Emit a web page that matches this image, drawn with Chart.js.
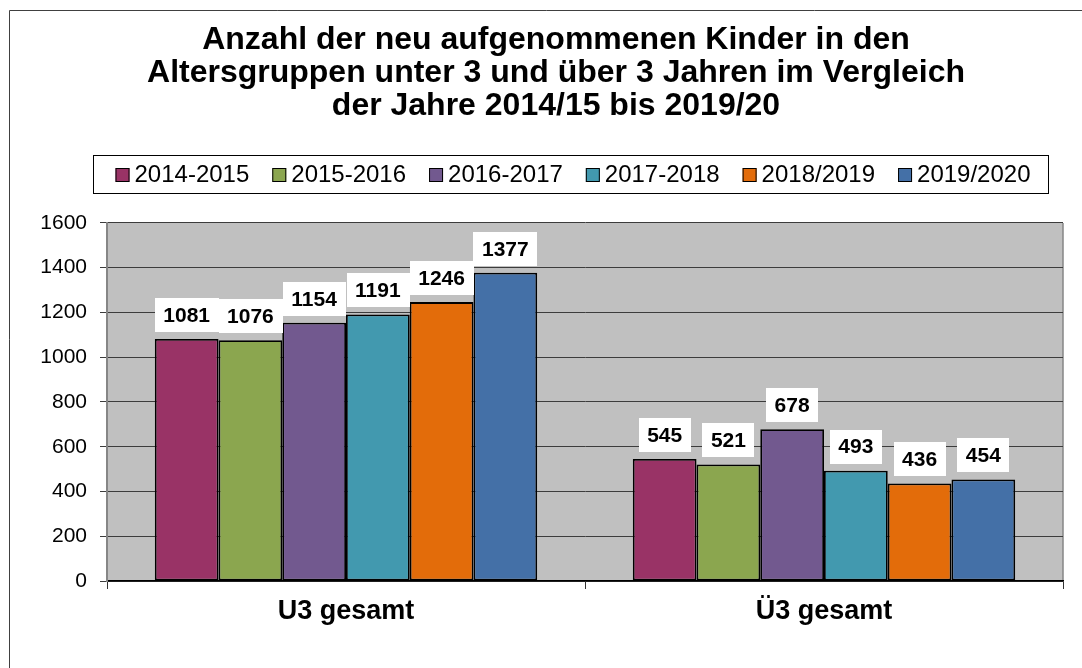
<!DOCTYPE html>
<html><head><meta charset="utf-8">
<script src="https://cdn.jsdelivr.net/npm/chart.js@4/dist/chart.umd.min.js"></script>
<style>html,body{margin:0;padding:0;background:#fff;overflow:hidden}#wrap{position:relative;width:1082px;height:668px}</style>
</head><body><div id="wrap"><canvas id="c" width="1082" height="668"></canvas></div>
<script>
const categories = ['U3 gesamt', 'Ü3 gesamt'];
const seriesLabels = ['2014-2015', '2015-2016', '2016-2017', '2017-2018', '2018/2019', '2019/2020'];
const values2014_15 = [1081, 545];
const values2015_16 = [1076, 521];
const values2016_17 = [1154, 678];
const values2017_18 = [1191, 493];
const values2018_19 = [1246, 436];
const values2019_20 = [1377, 454];
const seriesColors = ['#993366', '#8BA64F', '#72598F', '#4299AF', '#E36C0A', '#4470A7'];
const yTickValues = [0, 200, 400, 600, 800, 1000, 1200, 1400, 1600];
const titleLines = ['Anzahl der neu aufgenommenen Kinder in den', 'Altersgruppen unter 3 und über 3 Jahren im Vergleich', 'der Jahre 2014/15 bis 2019/20'];

const FONT = '"Liberation Sans", Arial, Helvetica, sans-serif';
const seriesValues = [values2014_15, values2015_16, values2016_17, values2017_18, values2018_19, values2019_20];

const framePlugin = {
  id: 'frame',
  beforeDraw(chart) {
    const ctx = chart.ctx, a = chart.chartArea;
    ctx.save();
    ctx.fillStyle = '#fff';
    ctx.fillRect(0, 0, chart.width, chart.height);
    ctx.strokeStyle = '#404040';
    ctx.lineWidth = 1;
    ctx.beginPath();
    ctx.moveTo(9.5, chart.height + 2);
    ctx.lineTo(9.5, 10.5);
    ctx.lineTo(chart.width + 2, 10.5);
    ctx.stroke();
    ctx.fillStyle = '#C0C0C0';
    ctx.fillRect(a.left, a.top, a.right - a.left, a.bottom - a.top);
    ctx.strokeStyle = '#868686';
    ctx.lineWidth = 1.5;
    ctx.beginPath();
    ctx.moveTo(a.right, a.top);
    ctx.lineTo(a.right, a.bottom);
    ctx.stroke();
    ctx.restore();
  }
};

const legendPlugin = {
  id: 'boxLegend',
  afterDraw(chart) {
    const ctx = chart.ctx;
    ctx.save();
    ctx.font = '24px ' + FONT;
    const marker = 14, gapMT = 5, gapItem = 23;
    const widths = seriesLabels.map(t => marker + gapMT + ctx.measureText(t).width);
    const total = widths.reduce((s, w) => s + w, 0) + gapItem * (widths.length - 1);
    let x = 573 - total / 2;
    const cy = 175;
    ctx.strokeStyle = '#000';
    ctx.lineWidth = 1;
    ctx.strokeRect(Math.round(x - 23) + 0.5, 155.5, Math.round(total + 23 + 17), 38);
    seriesLabels.forEach((t, i) => {
      ctx.fillStyle = seriesColors[i];
      ctx.fillRect(x, cy - 7, marker, marker);
      ctx.strokeStyle = '#000';
      ctx.strokeRect(x + 0.5, cy - 7 + 0.5, marker - 1, marker - 1);
      ctx.fillStyle = '#000';
      ctx.textAlign = 'left';
      ctx.textBaseline = 'middle';
      ctx.fillText(t, x + marker + gapMT, cy);
      x += widths[i] + gapItem;
    });
    ctx.restore();
  }
};

const labelPlugin = {
  id: 'boxLabels',
  afterDatasetsDraw(chart) {
    const ctx = chart.ctx;
    ctx.save();
    ctx.font = 'bold 21px ' + FONT;
    chart.data.datasets.forEach((ds, i) => {
      const meta = chart.getDatasetMeta(i);
      meta.data.forEach((bar, j) => {
        const txt = String(ds.data[j]);
        const w = ctx.measureText(txt).width + 17;
        const h = 34;
        const bottom = bar.y - 7;
        ctx.fillStyle = '#fff';
        ctx.fillRect(Math.round(bar.x - w / 2), Math.round(bottom - h), Math.round(w), h);
        ctx.fillStyle = '#000';
        ctx.textAlign = 'center';
        ctx.textBaseline = 'middle';
        ctx.fillText(txt, bar.x, bottom - h / 2 + 1);
      });
    });
    ctx.restore();
  }
};

new Chart(document.getElementById('c'), {
  type: 'bar',
  data: {
    labels: categories,
    datasets: seriesLabels.map((lab, i) => ({
      label: lab,
      data: seriesValues[i],
      backgroundColor: seriesColors[i],
      borderColor: '#000',
      borderWidth: 1.8,
      borderSkipped: false,
      categoryPercentage: 0.8,
      barPercentage: 1.0,
      yAxisID: 'y'
    }))
  },
  options: {
    responsive: false,
    devicePixelRatio: 1,
    animation: false,
    layout: { padding: { left: 30, right: 0, top: 0, bottom: 0 } },
    plugins: {
      legend: { display: false },
      tooltip: { enabled: false },
      title: {
        display: true,
        text: titleLines,
        color: '#000',
        font: { family: FONT, size: 32, weight: 'bold', lineHeight: 1.03 },
        padding: { top: 24, bottom: 100 }
      }
    },
    scales: {
      x: {
        offset: true,
        grid: { display: true, drawOnChartArea: false, drawTicks: true, tickLength: 8, offset: true, color: '#333' },
        border: { display: true, color: '#000', width: 1.5 },
        ticks: { color: '#000', font: { family: FONT, size: 27, weight: 'bold' }, padding: 6 },
        afterFit(scale) { scale.height = 87; }
      },
      y: {
        position: 'left',
        min: 0,
        max: 1600,
        afterBuildTicks(scale) { scale.ticks = yTickValues.map(v => ({ value: v })); },
        grid: { color: '#3C3C3C', lineWidth: 1, drawTicks: true, tickLength: 7 },
        border: { display: true, color: '#868686', width: 2 },
        ticks: { color: '#000', font: { family: FONT, size: 21 }, padding: 13, callback: v => String(v) },
        afterFit(scale) { scale.width = 77; }
      },
      spacer: {
        type: 'linear',
        position: 'right',
        display: true,
        grid: { display: false, drawTicks: false },
        border: { display: false },
        ticks: { display: false },
        afterFit(scale) { scale.width = 19; }
      }
    }
  },
  plugins: [framePlugin, legendPlugin, labelPlugin]
});
</script></body></html>
